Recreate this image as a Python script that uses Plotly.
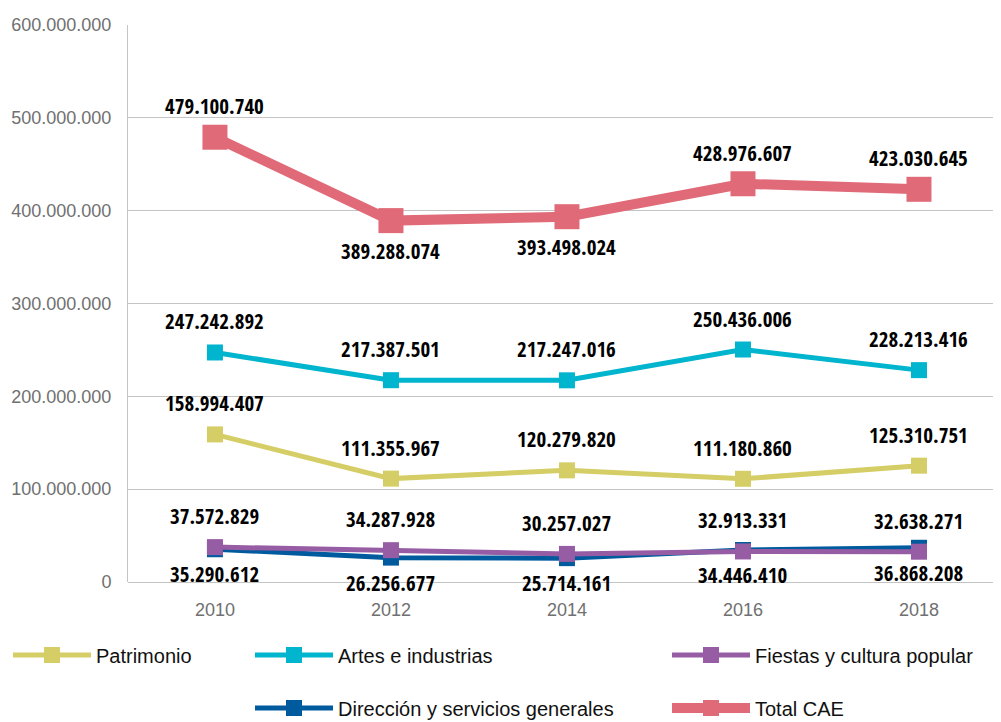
import plotly.graph_objects as go

years = ["2010", "2012", "2014", "2016", "2018"]
patrimonio = [158994407, 111355967, 120279820, 111180860, 125310751]
artes = [247242892, 217387501, 217247016, 250436006, 228213416]
fiestas = [37572829, 34287928, 30257027, 32913331, 32638271]
direccion = [35290612, 26256677, 25714161, 34446410, 36868208]
total = [479100740, 389288074, 393498024, 428976607, 423030645]

y_ticks = [0, 100000000, 200000000, 300000000, 400000000, 500000000, 600000000]

# label side: -1 above the point, +1 below
pos_total = [-1, 1, 1, -1, -1]

# page body has an 8px margin, so the figure is 8px smaller than the window
W, H = 993, 714

series = [
    # name, values, color, line width, marker size, legend id, legend x(px), legend y(px), label sides, below shift
    ("Patrimonio", patrimonio, "#d5cd65", 5, 16, "legend", 0, 647, [-1] * 5, -30),
    ("Artes e industrias", artes, "#00b5cd", 5, 16, "legend2", 242, 647, [-1] * 5, -30),
    ("Dirección y servicios generales", direccion, "#005b9e", 5, 16, "legend4", 242, 700, [1] * 5, -25),
    ("Fiestas y cultura popular", fiestas, "#965ca4", 5, 16, "legend3", 659, 647, [-1] * 5, -30),
    ("Total CAE", total, "#e06a77", 10, 25, "legend5", 659, 700, pos_total, -30),
]

LABEL_FONT = dict(family="Open Sans Condensed, Roboto Condensed, sans-serif", size=21, color="#000000", weight="bold")

fig = go.Figure()
annotations = []
legends = {}
for name, vals, color, lw, ms, lg, lx, ly, sides, below in series:
    fig.add_trace(go.Scatter(
        x=years, y=vals, name=name, mode="lines+markers",
        line=dict(color=color, width=lw),
        marker=dict(symbol="square", size=ms, color=color),
        legend=lg, showlegend=True, hoverinfo="skip",
    ))
    legends[lg] = dict(
        x=lx / W, y=1 - ly / H, xref="container", yref="container",
        xanchor="left", yanchor="middle", orientation="h",
        bgcolor="rgba(0,0,0,0)", borderwidth=0, itemwidth=78,
        font=dict(family="Liberation Sans, Arial, sans-serif", size=20, color="#111111"),
    )
    for i, (v, s) in enumerate(zip(vals, sides)):
        annotations.append(dict(
            x=i, y=v, xref="x", yref="y", showarrow=False,
            text=f"{v:,}".replace(",", "."),
            yshift=31 if s < 0 else below,
            font=LABEL_FONT,
        ))

fig.update_layout(
    width=W, height=H,
    margin=dict(l=120, r=0, t=17, b=140),
    paper_bgcolor="white", plot_bgcolor="white",
    separators=",.",
    showlegend=True,
    annotations=annotations,
    **legends,
)
fig.update_xaxes(
    type="category", range=[-0.494, 4.466],
    showgrid=False, showline=False, zeroline=False, ticks="",
    tickfont=dict(family="Liberation Sans, Arial, sans-serif", size=18, color="#707070"),
    ticklabelstandoff=15,
)
fig.update_yaxes(
    range=[0, 600000000], tickvals=y_ticks, tickformat=",d",
    showgrid=True, gridcolor="#c4c4c4", gridwidth=1,
    showline=True, linecolor="#c4c4c4", linewidth=1,
    zeroline=True, zerolinecolor="#c4c4c4", zerolinewidth=1,
    ticks="", ticklabelstandoff=12,
    tickfont=dict(family="Liberation Sans, Arial, sans-serif", size=18, color="#707070"),
)
fig.write_html("out.html")
